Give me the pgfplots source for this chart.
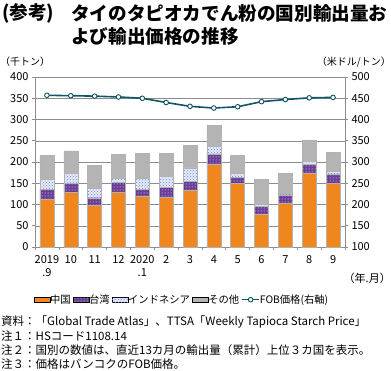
\documentclass[border=0pt]{standalone}
\usepackage{fontspec}
\setmainfont{Noto Sans CJK JP}
\usepackage{pgfplots}
\pgfplotsset{compat=1.18}
\usetikzlibrary{patterns}
\definecolor{cOrange}{RGB}{240,135,30}
\definecolor{cPurple}{RGB}{105,60,150}
\definecolor{cBlue}{RGB}{110,140,210}
\definecolor{cLight}{RGB}{228,234,248}
\definecolor{cGray}{RGB}{180,180,180}
\definecolor{cTeal}{RGB}{15,85,100}
\definecolor{cAxis}{RGB}{140,140,140}
\pgfplotsset{swatch/.style={legend image code/.code={\draw[##1] (0pt,-2.5pt) rectangle (16pt,2.5pt);}}}
\begin{document}
\begin{tikzpicture}
\useasboundingbox (0pt,0pt) rectangle (391pt,370pt);
% title
\node[anchor=west, inner sep=0, font=\fontsize{18.6}{20}\selectfont\bfseries] at (2pt,357pt) {(参考)};
\node[anchor=west, inner sep=0, font=\fontsize{18.6}{20}\selectfont\bfseries] at (71pt,357pt) {タイのタピオカでん粉の国別輸出量お};
\node[anchor=west, inner sep=0, font=\fontsize{18.6}{20}\selectfont\bfseries] at (71pt,334pt) {よび輸出価格の推移};
% units
\node[anchor=west, inner sep=0, font=\fontsize{10}{11}\selectfont] at (0pt,308pt) {（千トン）};
\node[anchor=east, inner sep=0, font=\fontsize{10}{11}\selectfont] at (391pt,308pt) {（米ドル/トン）};
\node[anchor=east, inner sep=0, font=\fontsize{11}{12}\selectfont] at (391pt,92pt) {（年.月）};
% notes
\node[anchor=west, inner sep=0, font=\fontsize{11.5}{12}\selectfont] at (1pt,48pt) {資料：「Global Trade Atlas」、TTSA「Weekly Tapioca Starch Price」};
\node[anchor=west, inner sep=0, font=\fontsize{11.5}{12}\selectfont] at (1pt,34pt) {注１：HSコード1108.14};
\node[anchor=west, inner sep=0, font=\fontsize{11.5}{12}\selectfont] at (1pt,20pt) {注２：国別の数値は、直近13カ月の輸出量（累計）上位３カ国を表示。};
\node[anchor=west, inner sep=0, font=\fontsize{11.5}{12}\selectfont] at (1pt,6pt) {注３：価格はバンコクのFOB価格。};

\begin{axis}[
  at={(35pt,123pt)}, anchor=south west, scale only axis,
  width=310pt, height=170pt,
  xmin=-0.5, xmax=12.5, ymin=0, ymax=400,
  ybar stacked, bar width=14pt,
  axis x line*=bottom, axis y line*=left,
  axis line style={cAxis, line width=0.6pt},
  ymajorgrids, grid style={cAxis, line width=0.5pt},
  ytick={0,50,...,400},
  xtick={0,...,12},
  xticklabels={{2019\\.9},10,11,12,{2020\\.1},2,3,4,5,6,7,8,9},
  xticklabel style={align=center, font=\fontsize{11}{13}\selectfont, yshift=-2pt},
  major x tick style={draw=none},
  minor xtick={-0.5,0.5,...,12.5},
  tick align=outside, major tick length=3pt, minor tick length=3pt,
  tick style={cAxis, line width=0.6pt},
  yticklabel style={font=\fontsize{11}{12}\selectfont},
  /pgf/number format/assume math mode=true,
]
\addplot[fill=cOrange, draw=gray!60, line width=0.4pt] coordinates {
(0,112) (1,128) (2,98) (3,130) (4,119) (5,117) (6,134) (7,194) (8,150) (9,77) (10,103) (11,174) (12,150)};
\addplot[fill=cPurple, draw=gray!60, line width=0.4pt, postaction={pattern=dots, pattern color=white}] coordinates {
(0,24) (1,22) (2,18) (3,22) (4,17) (5,24) (6,21) (7,25) (8,14) (9,18) (10,20) (11,20) (12,22)};
\addplot[fill=cLight, draw=gray!60, line width=0.4pt, postaction={pattern=crosshatch dots, pattern color=cBlue}] coordinates {
(0,23) (1,23) (2,22) (3,10) (4,26) (5,25) (6,31) (7,18) (8,9) (9,6) (10,4) (11,7) (12,6)};
\addplot[fill=cGray, draw=gray!60, line width=0.4pt] coordinates {
(0,57) (1,53) (2,54) (3,56) (4,58) (5,54) (6,53) (7,49) (8,43) (9,58) (10,46) (11,51) (12,45)};
\end{axis}

\begin{axis}[
  at={(35pt,123pt)}, anchor=south west, scale only axis,
  width=310pt, height=170pt,
  xmin=-0.5, xmax=12.5, ymin=100, ymax=500,
  axis x line=none, axis y line*=right,
  axis line style={cAxis, line width=0.6pt},
  ytick={100,150,...,500},
  tick align=outside, major tick length=3pt,
  tick style={cAxis, line width=0.6pt},
  yticklabel style={font=\fontsize{11}{12}\selectfont},
  /pgf/number format/assume math mode=true,
  legend style={at={(axis description cs:0.474,-0.31)}, anchor=center, draw=none, fill=none,
    font=\fontsize{10.3}{12}\selectfont, inner sep=0pt,
    /tikz/every even column/.append style={column sep=0pt},
    /tikz/every odd column/.append style={column sep=-2pt}},
  legend columns=5,
  legend cell align=left,
]
\addlegendimage{fill=cOrange, draw=none, swatch}
\addlegendimage{fill=cPurple, draw=none, postaction={pattern=dots, pattern color=white}, swatch}
\addlegendimage{fill=cLight, draw=none, postaction={pattern=crosshatch dots, pattern color=cBlue}, swatch}
\addlegendimage{fill=cGray, draw=none, swatch}
\addplot[color=cTeal, line width=1.6pt, mark=*, mark size=2.3pt, mark options={fill=white, draw=cTeal, line width=0.9pt}] coordinates {
(0,457) (1,456) (2,455) (3,453) (4,450) (5,440) (6,431) (7,427) (8,430) (9,442) (10,447) (11,451) (12,452)};
\legend{中国,台湾,インドネシア,その他,FOB価格(右軸)}
\end{axis}
\end{tikzpicture}
\end{document}
